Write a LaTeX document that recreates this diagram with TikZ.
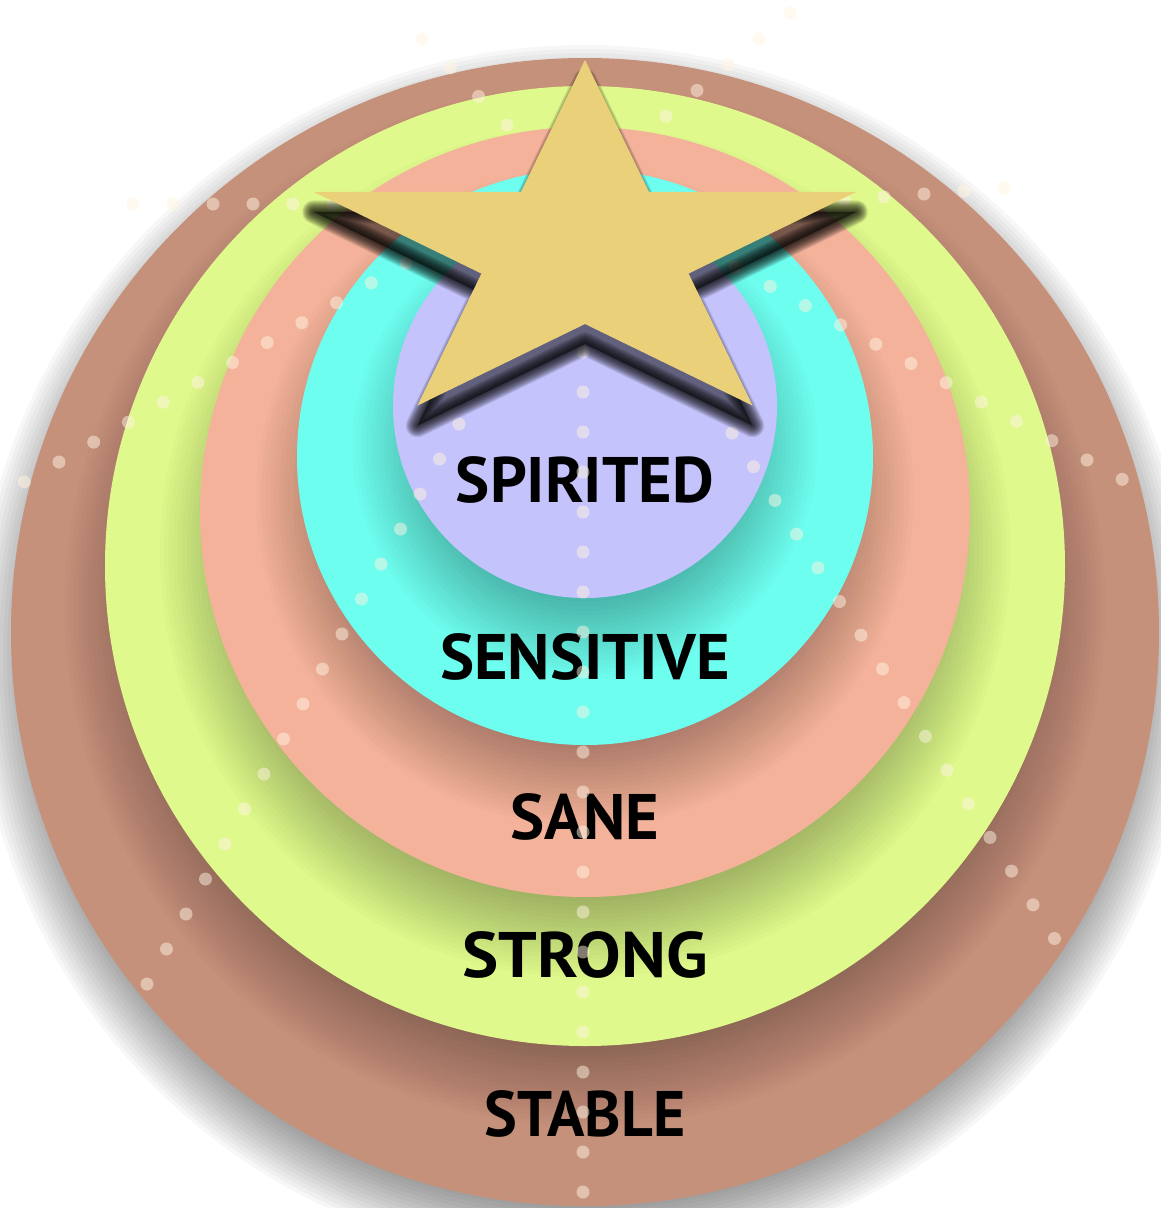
\documentclass[tikz,border=0pt]{standalone}
\usepackage{fontspec}
\setmainfont{PT Sans}
\usepackage{tikz}
\usetikzlibrary{shapes.geometric}

\definecolor{ringbrown}{HTML}{C6917A}
\definecolor{ringgreen}{HTML}{E0F98C}
\definecolor{ringsalmon}{HTML}{F4B29A}
\definecolor{ringcyan}{HTML}{6EFEF0}
\definecolor{ringlav}{HTML}{C5C3FC}
\definecolor{stargold}{HTML}{EBD07A}
\definecolor{dotcream}{HTML}{FFF4E2}

\begin{document}
\begin{tikzpicture}[x=0.01cm, y=-0.01cm,
  outershadow/.style={fill=black, fill opacity=0.03},
  ringshadow/.style={fill=black, fill opacity=0.016},
  starnode/.style={star, star points=5, star point ratio=2.618, minimum size=3.82cm,
    inner sep=0pt, xscale=1.492, transform shape},
  starblur/.style={starnode, draw=black, draw opacity=0.1, line join=round},
  dot/.style={fill=dotcream, fill opacity=0.5},
  layer/.style={font=\fontsize{18.3}{20}\selectfont\bfseries, text=black, inner sep=0pt}
]
  \path[use as bounding box, clip] (0,0) rectangle (1161,1208);

  % outer ring and its grey shadow
  \foreach \k in {0,...,19} \fill[outershadow] (585,655) circle (534+4*\k);
  \fill[ringbrown] (585,632) circle (574);

  % inner rings, each with a soft shadow below it
  \foreach \cy/\r/\col in {566/480/ringgreen, 512/385/ringsalmon,
                           457/288/ringcyan, 406/192/ringlav} {
    \foreach \k in {0,...,19} \fill[ringshadow] (585,\cy+40) circle (\r-45+4.5*\k);
    \fill[\col] (585,\cy) circle (\r);
  }

  \node[layer] (spirited)  at (585,480) {SPIRITED};
  \node[layer] (sensitive) at (585,657) {SENSITIVE};
  \node[layer] (sane)      at (585,817) {SANE};
  \node[layer, xscale=1.06] (strong) at (585,955) {STRONG};
  \node[layer, xscale=0.96] (stable) at (585,1114) {STABLE};

  % dotted lines
  \foreach \k in {0,...,21} \fill[dot] (583,352+40*\k) circle (6.5);
  \foreach \k in {0,...,15} \fill[dot] (732+21.5*\k,433+33.7*\k) circle (6.5);
  \foreach \k in {0,...,16} \fill[dot] (459-19.5*\k,424+35*\k) circle (6.5);
  \foreach \k in {0,...,11} \fill[dot] (735+35.2*\k,267+19.3*\k) circle (6.5);
  \foreach \k in {0,...,11} \fill[dot] (406-34.7*\k,263+19.9*\k) circle (6.5);
  \foreach \k in {0,...,5}  \fill[dot] (133+40*\k,204) circle (6.5);
  \foreach \k in {0,...,4}  \fill[dot] (844+40*\k,200-3*\k) circle (6.5);
  \foreach \k in {0,...,4}  \fill[dot] (790-31*\k,13+25.8*\k) circle (6.5);
  \foreach \k in {0,...,3}  \fill[dot] (422+28.3*\k,39+28.7*\k) circle (6.5);

  % star with its shadow
  \begin{scope}[shift={(585,251)}]
    \node[starnode, fill=black, fill opacity=0.5] (starshade) at (0,20) {};
    \foreach \k in {1,...,12}
      \node[starblur, line width=0.55*\k pt] (starblur\k) at (0,20) {};
    \node[starnode, fill=stargold] (star) at (0,0) {};
  \end{scope}
\end{tikzpicture}
\end{document}
